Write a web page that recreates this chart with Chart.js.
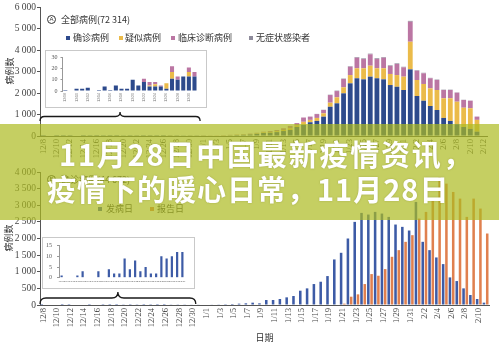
<!DOCTYPE html>
<html>
<head>
<meta charset="utf-8">
<script src="https://cdn.jsdelivr.net/npm/chart.js@4.4.1/dist/chart.umd.min.js"></script>
<style>
  html, body { margin: 0; padding: 0; background: #fff; }
  #page { position: relative; width: 499px; height: 346px; overflow: hidden; background: #fff;
          font-family: "Noto Sans CJK SC", sans-serif; color: #333; }
  canvas { position: absolute; display: block; }
  .box { position: absolute; border: 1px solid #c9c9c9; background: #fff; box-sizing: border-box; }
  .txt { position: absolute; font-size: 9px; line-height: 10px; white-space: nowrap; color: #333; }
  .circ { position: absolute; width: 9px; height: 9px; border: 1px solid #333; border-radius: 50%;
          box-sizing: border-box; font: 6px/7px "Liberation Sans", sans-serif; text-align: center; color: #333; }
  .mk { position: absolute; width: 4px; height: 4px; }
  .ytitle { position: absolute; font-size: 9px; line-height: 10px; white-space: nowrap; color: #333;
            transform: translate(-50%, -50%) rotate(-90deg); }
  #banner { position: absolute; left: 0; top: 124px; width: 499px; height: 96px; background: rgba(172, 187, 32, 0.7); }
  .headline { position: absolute; color: #fff; font-weight: bold; font-size: 29px; line-height: 32px;
              letter-spacing: 1px; white-space: nowrap; text-shadow: 0 0 2px rgba(90, 90, 20, 0.35); }
</style>
</head>
<body>
<div id="page">
  <canvas id="cTop" width="499" height="170" style="left:0;top:0"></canvas>
  <canvas id="cBottom" width="499" height="186" style="left:0;top:160px"></canvas>

  <div class="box" style="left:45px;top:50px;width:162px;height:58px"></div>
  <canvas id="cInsetA" width="162" height="58" style="left:45px;top:50px"></canvas>
  <div class="box" style="left:42px;top:237px;width:153px;height:52px"></div>
  <canvas id="cInsetB" width="153" height="52" style="left:42px;top:237px"></canvas>

  <!-- panel A heading and legend -->
  <div class="circ" style="left:47px;top:15px">A</div>
  <div class="txt" style="left:61px;top:15px">全部病例(72 314)</div>
  <div class="mk" style="left:66px;top:36px;background:#2d4a8c"></div>
  <div class="txt" style="left:73px;top:33px">确诊病例</div>
  <div class="mk" style="left:119px;top:36px;background:#ebbb4a"></div>
  <div class="txt" style="left:125px;top:33px">疑似病例</div>
  <div class="mk" style="left:171px;top:36px;background:#bb76a3"></div>
  <div class="txt" style="left:178px;top:33px">临床诊断病例</div>
  <div class="mk" style="left:249px;top:36px;background:#8e8b9b"></div>
  <div class="txt" style="left:256px;top:33px">无症状感染者</div>
  <div class="ytitle" style="left:9.5px;top:71px">病例数</div>

  <!-- panel B heading and legend -->
  <div class="circ" style="left:47px;top:175px">B</div>
  <div class="txt" style="left:61px;top:175px">确诊病例(44 672)</div>
  <div class="mk" style="left:98px;top:207px;background:#3d5ba6"></div>
  <div class="txt" style="left:106px;top:204px">发病日</div>
  <div class="mk" style="left:150px;top:207px;background:#e0804f"></div>
  <div class="txt" style="left:157px;top:204px">报告日</div>
  <div class="ytitle" style="left:9px;top:238px">病例数</div>

  <div id="banner"></div>
  <div class="headline" style="left:59px;top:137px;letter-spacing:1.8px">11月28日中国最新疫情资讯，</div>
  <div class="headline" style="left:47px;top:172px">疫情下的暖心日常，11月28日</div>
</div>

<script>
// Onset dates 12/8 – 2/11; panel A axis runs one extra day to 2/12
const dates = [
  '12/8','12/9','12/10','12/11','12/12','12/13','12/14','12/15','12/16','12/17','12/18','12/19',
  '12/20','12/21','12/22','12/23','12/24','12/25','12/26','12/27','12/28','12/29','12/30','12/31',
  '1/1','1/2','1/3','1/4','1/5','1/6','1/7','1/8','1/9','1/10','1/11','1/12','1/13','1/14','1/15',
  '1/16','1/17','1/18','1/19','1/20','1/21','1/22','1/23','1/24','1/25','1/26','1/27','1/28','1/29',
  '1/30','1/31','2/1','2/2','2/3','2/4','2/5','2/6','2/7','2/8','2/9','2/10','2/11'
];
const topDates = dates.concat(['2/12']);
const insetDates = [
  '12/08','12/09','12/10','12/11','12/12','12/13','12/14','12/15','12/16','12/17','12/18','12/19',
  '12/20','12/21','12/22','12/23','12/24','12/25','12/26','12/27','12/28','12/29','12/30','12/31'
];

// Panel A: all cases by onset date
const topConfirmed = [
  1,0,2,2,3,0,1,4,1,5,2,2,10,5,8,4,4,4,2,11,10,13,13,13,
  15,20,22,28,35,45,55,70,100,140,150,180,230,280,420,520,640,700,900,1360,1520,1985,
  2450,2685,2635,2760,2685,2635,2370,2290,2140,
  3100,1860,1640,1395,1210,840,700,550,420,330,200,0
];
const topSuspected = [
  0,0,0,0,0,0,0,0,0,0,0,0,0,0,0,1,2,0,5,6,0,0,4,0,
  4,4,5,7,8,10,12,15,20,25,30,40,50,80,70,140,110,140,155,190,280,280,
  385,465,515,510,465,515,515,545,620,
  1285,745,780,820,930,915,1055,1045,895,960,550,0
];
const topClinical = [
  0,0,0,0,0,0,0,0,0,0,0,0,0,0,3,3,2,1,0,5,3,0,4,4,
  6,6,8,10,12,15,18,25,30,35,50,60,80,110,110,200,150,180,155,355,290,385,
  385,490,430,530,430,490,370,515,435,
  930,430,495,470,465,385,385,420,360,350,150,0
];
const topAsymptomatic = [
  0,0,0,0,0,0,0,0,0,0,0,0,0,0,0,0,0,0,0,0,0,0,0,0,
  0,0,0,0,0,0,0,0,0,0,0,0,0,0,0,0,5,8,10,15,20,20,
  25,30,30,30,35,30,30,30,25,
  40,25,25,20,20,15,15,12,10,8,5,0
];

// Panel B: confirmed cases by onset date and by report date
const onsetCases = [
  1,0,0,1,3,0,0,3,0,4,2,2,9,4,8,3,5,2,2,10,9,10,12,12,
  15,18,20,25,30,40,50,70,50,150,150,180,230,270,430,500,630,700,870,1370,1570,2000,
  2500,2770,2720,2800,2750,2650,2420,2350,2240,
  3100,1900,1650,1430,1230,830,720,500,300,180,70
];
const reportCases = [
  0,0,0,0,0,0,0,0,0,0,0,0,0,0,0,0,0,0,0,0,0,0,0,0,
  0,0,0,0,0,0,0,0,0,0,0,0,0,0,0,0,0,0,0,0,40,250,
  320,630,930,880,1080,1450,1650,1900,2100,
  2600,2800,3200,3850,3650,3400,3200,2650,3200,2900,2150
];

const yTicksA = { min: 0, max: 6000, step: 1000 };
const yTicksB = { min: 0, max: 4000, step: 500 };

const COLORS = {
  blue: '#2d4a8c', yellow: '#ebbb4a', pink: '#bb76a3', gray: '#8e8b9b',
  onset: '#3d5ba6', report: '#e0804f', axis: '#555', tick: '#444'
};

const fmt = v => v >= 1000 ? Math.floor(v / 1000) + ' ' + String(v % 1000).padStart(3, '0') : String(v);
const everyOther = function (v, i) { return i % 2 === 0 ? this.getLabelForValue(v) : ''; };
const serif = size => ({ family: 'Liberation Serif', size });

// curly brace spanning a run of categories
const bracePlugin = {
  id: 'brace',
  afterDraw(chart, args, o) {
    const x = chart.scales.x, ctx = chart.ctx;
    const x0 = x.getPixelForValue(o.from), x1 = x.getPixelForValue(o.to);
    const m = (x0 + x1) / 2, r = o.h / 2, yb = o.yBottom;
    ctx.save();
    ctx.strokeStyle = '#1a1a1a';
    ctx.lineWidth = 1.3;
    ctx.beginPath();
    ctx.moveTo(x0, yb);
    ctx.quadraticCurveTo(x0, yb - r, x0 + r, yb - r);
    ctx.lineTo(m - r, yb - r);
    ctx.quadraticCurveTo(m, yb - r, m, yb - o.h);
    ctx.quadraticCurveTo(m, yb - r, m + r, yb - r);
    ctx.lineTo(x1 - r, yb - r);
    ctx.quadraticCurveTo(x1, yb - r, x1, yb);
    ctx.stroke();
    ctx.restore();
  }
};

const base = { responsive: false, animation: false, devicePixelRatio: 1 };

// Panel A main chart
new Chart(document.getElementById('cTop'), {
  type: 'bar',
  data: {
    labels: topDates,
    datasets: [
      { label: '确诊病例', data: topConfirmed, backgroundColor: COLORS.blue },
      { label: '疑似病例', data: topSuspected, backgroundColor: COLORS.yellow },
      { label: '临床诊断病例', data: topClinical, backgroundColor: COLORS.pink },
      { label: '无症状感染者', data: topAsymptomatic, backgroundColor: COLORS.gray }
    ]
  },
  options: Object.assign({}, base, {
    layout: { padding: { left: 0, right: 12, top: 7, bottom: 0 } },
    datasets: { bar: { categoryPercentage: 0.72, barPercentage: 1 } },
    plugins: { legend: { display: false }, tooltip: { enabled: false },
               brace: { from: -0.5, to: 23.5, yBottom: 121, h: 9 } },
    scales: {
      x: { stacked: true, grid: { display: false, drawTicks: false },
           border: { display: true, color: COLORS.axis, width: 1 },
           ticks: { autoSkip: false, minRotation: 90, maxRotation: 90, padding: 3,
                    color: COLORS.tick, font: serif(8.5), callback: everyOther },
           afterFit(s) { s.height = 34; } },
      y: { stacked: true, min: yTicksA.min, max: yTicksA.max,
           ticks: { stepSize: yTicksA.step, padding: 1, color: COLORS.tick, font: serif(9.5), callback: fmt },
           grid: { drawOnChartArea: false, tickLength: 3, color: COLORS.axis },
           border: { color: COLORS.axis, width: 1 },
           afterFit(s) { s.width = 40; } }
    }
  }),
  plugins: [bracePlugin]
});

// Panel A inset: December detail
new Chart(document.getElementById('cInsetA'), {
  type: 'bar',
  data: {
    labels: insetDates,
    datasets: [
      { data: topConfirmed.slice(0, 24), backgroundColor: COLORS.blue },
      { data: topSuspected.slice(0, 24), backgroundColor: COLORS.yellow },
      { data: topClinical.slice(0, 24), backgroundColor: COLORS.pink },
      { data: topAsymptomatic.slice(0, 24), backgroundColor: COLORS.gray }
    ]
  },
  options: Object.assign({}, base, {
    layout: { padding: { left: 0, right: 9.7, top: 7.3, bottom: 0 } },
    datasets: { bar: { categoryPercentage: 0.72, barPercentage: 1 } },
    plugins: { legend: { display: false }, tooltip: { enabled: false } },
    scales: {
      x: { stacked: true, grid: { display: false, drawTicks: false }, border: { display: false },
           ticks: { autoSkip: false, minRotation: 90, maxRotation: 90, padding: 2,
                    color: '#777', font: { family: 'Liberation Sans', size: 3.5 }, callback: everyOther },
           afterFit(s) { s.height = 17; } },
      y: { stacked: true, min: 0, max: 30,
           ticks: { stepSize: 10, padding: 3, color: '#555', font: serif(6) },
           grid: { drawOnChartArea: false, tickLength: 2, color: '#999' },
           border: { color: '#999', width: 1 },
           afterFit(s) { s.width = 17.5; } }
    }
  })
});

// Panel B main chart
new Chart(document.getElementById('cBottom'), {
  type: 'bar',
  data: {
    labels: dates,
    datasets: [
      { label: '发病日', data: onsetCases, backgroundColor: COLORS.onset },
      { label: '报告日', data: reportCases, backgroundColor: COLORS.report }
    ]
  },
  options: Object.assign({}, base, {
    layout: { padding: { left: 0, right: 10, top: 12, bottom: 0 } },
    datasets: { bar: { categoryPercentage: 0.96, barPercentage: 0.78 } },
    plugins: { legend: { display: false }, tooltip: { enabled: false },
               brace: { from: -0.5, to: 22.4, yBottom: 144, h: 12 } },
    scales: {
      x: { grid: { display: false, drawTicks: false },
           border: { display: true, color: COLORS.axis, width: 1 },
           ticks: { autoSkip: false, minRotation: 90, maxRotation: 90, padding: 3,
                    color: COLORS.tick, font: serif(8.5), callback: everyOther },
           title: { display: true, text: '日期', color: '#333',
                    font: { family: 'Noto Sans CJK SC', size: 9 }, padding: { top: 0, bottom: 3 } },
           afterFit(s) { s.height = 41; } },
      y: { min: yTicksB.min, max: yTicksB.max,
           ticks: { stepSize: yTicksB.step, padding: 1, color: COLORS.tick, font: serif(9.5), callback: fmt },
           grid: { drawOnChartArea: false, tickLength: 3, color: COLORS.axis },
           border: { color: COLORS.axis, width: 1 },
           afterFit(s) { s.width = 40; } }
    }
  }),
  plugins: [bracePlugin]
});

// Panel B inset: December detail
new Chart(document.getElementById('cInsetB'), {
  type: 'bar',
  data: {
    labels: insetDates,
    datasets: [ { data: onsetCases.slice(0, 24), backgroundColor: COLORS.onset } ]
  },
  options: Object.assign({}, base, {
    layout: { padding: { left: 0, right: 10, top: 8.3, bottom: 0 } },
    datasets: { bar: { categoryPercentage: 0.42, barPercentage: 1 } },
    plugins: { legend: { display: false }, tooltip: { enabled: false } },
    scales: {
      x: { grid: { display: false, drawTicks: false }, border: { display: false },
           ticks: { autoSkip: false, minRotation: 0, maxRotation: 0, padding: 2,
                    color: '#777', font: { family: 'Liberation Sans', size: 2.5 } },
           afterFit(s) { s.height = 11.3; } },
      y: { min: 0, max: 15,
           ticks: { stepSize: 5, padding: 5, color: '#555', font: serif(6) },
           grid: { drawOnChartArea: false, tickLength: 2, color: '#999' },
           border: { color: '#999', width: 1 },
           afterFit(s) { s.width = 17; } }
    }
  })
});
</script>
</body>
</html>
